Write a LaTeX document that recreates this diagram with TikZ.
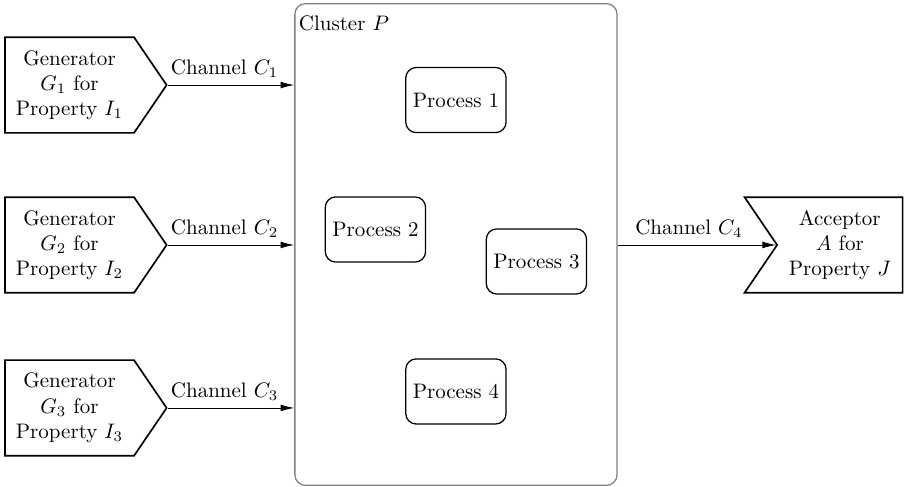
\documentclass[tikz,border=0pt]{standalone}
\usepackage{amsmath}
\usepackage{amssymb}
\usetikzlibrary{shapes,arrows,arrows.meta}

\tikzset{
  gen/.style = {signal, signal to=east, signal pointer angle=111.5, draw, thick,
                align=center, text width=1.8cm, inner xsep=0.18cm, minimum height=1.6cm},
  acc/.style = {signal, signal from=west, signal to=nowhere, signal pointer angle=111.5,
                draw, thick, align=center, text width=1.9cm, inner xsep=0.1cm, minimum height=1.6cm},
  proc/.style = {draw, semithick, rounded corners=5pt, minimum width=1.62cm, minimum height=1.09cm},
  clusterbox/.style = {draw=gray, semithick, rounded corners=5pt, minimum width=5.39cm, minimum height=8.06cm},
  chan/.style = {-{Latex[length=6.5pt, width=3.2pt]}}
}

\begin{document}
\begin{tikzpicture}[scale = 1]
\useasboundingbox (0,0) rectangle (15.21,8.148);
\node[clusterbox] (clus) at (7.629, 4.057) {};
\node[anchor=north west, inner sep=2pt] (clusname) at ([yshift=-0.13cm]clus.north west) {Cluster $P$};
\node[proc] (p1) at (7.629, 6.474) {Process 1};
\node[proc] (p2) at (6.282, 4.308) {Process 2};
\node[proc] (p3) at (8.976, 3.773) {Process 3};
\node[proc] (p4) at (7.629, 1.598) {Process 4};
\node[gen] (g1) at (1.163, 6.725) {Generator\\$G_1$ for\\Property $I_1$};
\node[gen] (g2) at (1.163, 4.049) {Generator\\$G_2$ for\\Property $I_2$};
\node[gen] (g3) at (1.163, 1.322) {Generator\\$G_3$ for\\Property $I_3$};
\node[acc] (a) at (14.053, 4.049) {Acceptor\\$A$ for\\Property $J$};
\draw[chan] (g1.east) -- (g1.east -| clus.west) node[pos=0.45, above] {Channel $C_1$};
\draw[chan] (g2.east) -- (g2.east -| clus.west) node[pos=0.45, above] {Channel $C_2$};
\draw[chan] (g3.east) -- (g3.east -| clus.west) node[pos=0.45, above] {Channel $C_3$};
\draw[chan] (a.west -| clus.east) -- (a.west) node[pos=0.45, above] {Channel $C_4$};
\end{tikzpicture}
\end{document}
